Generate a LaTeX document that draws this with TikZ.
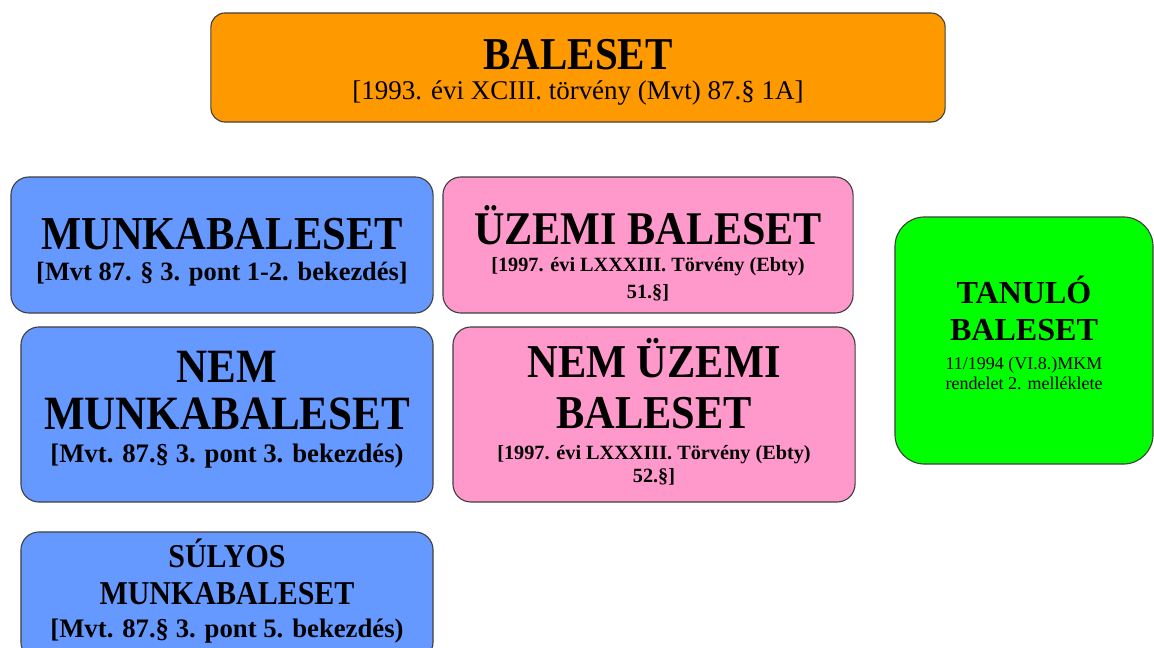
\documentclass[tikz,border=0pt]{standalone}
\usepackage{fontspec}
\setmainfont{Liberation Serif}
\newfontfamily\narrowserif[FakeStretch=0.9]{Liberation Serif}
\definecolor{balorange}{HTML}{FF9900}
\definecolor{balblue}{HTML}{6699FF}
\definecolor{balpink}{HTML}{FF99CC}
\definecolor{balgreen}{HTML}{00FF00}
\newcommand{\boxtitle}[2]{{\narrowserif\bfseries\fontsize{#1}{0}\selectfont #2}}
\newcommand{\boxref}[2]{{\bfseries\fontsize{#1}{0}\selectfont #2}}
\newcommand{\boxnote}[2]{{\fontsize{#1}{0}\selectfont #2}}

\begin{document}
\begin{tikzpicture}[x=0.025cm, y=-0.025cm]
	\useasboundingbox (0,0) rectangle (1154,648);
	\clip (0,0) rectangle (1154,648);
	\begin{scope}[every node/.style={draw=black!75, line width=0.8pt, rounded corners=12.8pt, align=center, inner sep=0pt, text depth=0pt, font={\fontsize{10}{0}\selectfont\lineskiplimit=-1000pt}}]
	\node[fill=balorange, rounded corners=10pt, minimum width=18.35cm, minimum height=2.725cm, text height=46.2pt] (baleset) at (578,67.5) {\boxtitle{32.4}{BALESET}\\[22pt]\boxnote{19.2}{[1993. évi XCIII. törvény (Mvt) 87.§ 1A]}};
	
	\node[fill=balblue, minimum width=10.55cm, minimum height=3.4cm, text height=49.8pt] (munka) at (222,245) {\boxtitle{33.6}{MUNKABALESET}\\[22pt]\boxref{18.8}{[Mvt 87. § 3. pont 1-2. bekezdés]}};
	\node[fill=balblue, minimum width=10.3cm, minimum height=4.375cm, text height=67.6pt] (nemmunka) at (227,414.5) {\boxtitle{34}{NEM}\\[34pt]\boxtitle{34}{MUNKABALESET}\\[22.8pt]\boxref{19}{[Mvt. 87.§ 3. pont 3. bekezdés)}};
	\node[fill=balblue, minimum width=10.3cm, minimum height=3.2cm, text height=59.7pt] (sulyos) at (227,596) {\boxtitle{23.7}{SÚLYOS}\\[26.3pt]\boxtitle{23.7}{MUNKABALESET}\\[23.5pt]\boxref{19}{[Mvt. 87.§ 3. pont 5. bekezdés)}};
	
	\node[fill=balpink, minimum width=10.25cm, minimum height=3.4cm, text height=75.4pt] (uzemi) at (648,245) {\boxtitle{33.3}{ÜZEMI BALESET}\\[18.5pt]\boxref{14.4}{[1997. évi LXXXIII. Törvény (Ebty)}\\[19.2pt]\boxref{14.4}{51.§]}};
	\node[fill=balpink, minimum width=10.05cm, minimum height=4.375cm, text height=97.4pt] (nemuzemi) at (654,414.5) {\boxtitle{33.5}{NEM ÜZEMI}\\[36.3pt]\boxtitle{33.5}{BALESET}\\[22pt]\boxref{14.4}{[1997. évi LXXXIII. Törvény (Ebty)}\\[16.4pt]\boxref{14.4}{52.§]}};
	
	\node[fill=balgreen, rounded corners=21pt, minimum width=6.45cm, minimum height=6.175cm, text height=70pt] (tanulo) at (1024,340.5) {\boxref{22.8}{TANULÓ}\\[26.3pt]\boxref{22.8}{BALESET}\\[20.6pt]\boxnote{12.8}{11/1994 (VI.8.)MKM}\\[14.2pt]\boxnote{12.8}{rendelet 2. melléklete}};
	\end{scope}
\end{tikzpicture}
\end{document}
